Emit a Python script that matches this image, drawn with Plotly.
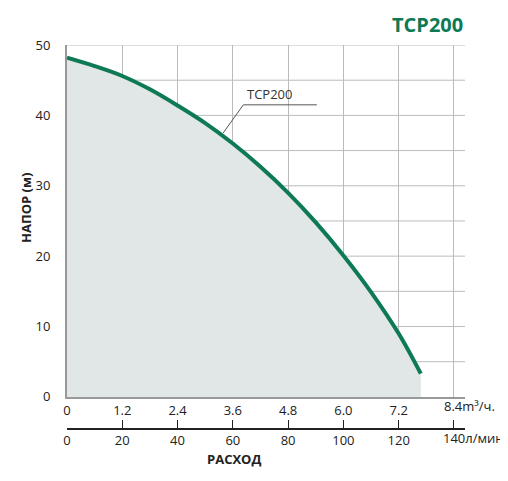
import numpy as np
import plotly.graph_objects as go

flow_lmin = [0, 10, 20, 30, 40, 50, 60, 70, 80, 90, 100, 110, 120, 128]
head_m = [48.2, 47.0, 45.6, 43.7, 41.4, 38.9, 36.0, 32.7, 29.0, 24.8, 20.1, 14.9, 9.0, 3.3]
lmin_ticks = [0, 20, 40, 60, 80, 100, 120, 140]
m3h_labels = ["0", "1.2", "2.4", "3.6", "4.8", "6.0", "7.2", ""]
lmin_labels = ["0", "20", "40", "60", "80", "100", "120", ""]

green = "#0d7a55"
font = "Open Sans"

fig = go.Figure()
fig.add_trace(go.Scatter(x=flow_lmin, y=head_m, mode="lines", line=dict(color=green, width=4, shape="spline"),
                         fill="tozeroy", fillcolor="#e1e6e6", showlegend=False))
fig.add_trace(go.Scatter(x=lmin_ticks, y=[None] * len(lmin_ticks), xaxis="x2", showlegend=False))

fig.update_layout(
    width=508, height=481, plot_bgcolor="white", paper_bgcolor="white",
    margin=dict(l=59, r=51, t=37, b=56),
    font=dict(family=font, size=13, color="#222"),
    xaxis=dict(range=[0, 144], tickvals=lmin_ticks, ticktext=m3h_labels, automargin=False,
               showgrid=True, gridcolor="#bbbbbb", gridwidth=1, showline=True, linecolor="#999", linewidth=2,
               zeroline=False, ticks="", anchor="y"),
    xaxis2=dict(range=[0, 144], tickvals=lmin_ticks, ticktext=lmin_labels, overlaying="x", anchor="free",
                position=0.010, automargin=False,
                showgrid=False, showline=True, linecolor="#222", linewidth=1.5, ticks="inside", ticklen=8,
                tickcolor="#222", side="bottom", zeroline=False),
    yaxis=dict(range=[0, 50], domain=[0.093, 1], tickvals=[0, 10, 20, 30, 40, 50], automargin=False,
               showgrid=False, showline=True, linecolor="#999", linewidth=2, zeroline=False, ticks="",
               ticklabelstandoff=12),
)

# horizontal grid every 5 m
for yv in np.arange(5, 51, 5):
    fig.add_shape(type="line", x0=0, x1=144, y0=yv, y1=yv, line=dict(color="#bbbbbb", width=1), layer="below")

fig.add_shape(type="line", x0=56.5, y0=37.5, x1=63.8, y1=41.5, line=dict(color="#555", width=1))
fig.add_shape(type="line", x0=63.8, y0=41.5, x1=90.4, y1=41.5, line=dict(color="#555", width=1))
fig.add_annotation(x=64.5, y=41.5, text="TCP200", showarrow=False, xanchor="left", yanchor="bottom",
                   font=dict(size=13, color="#333"))

fig.add_annotation(xref="paper", yref="paper", x=1.0, y=1.0, yshift=36, text="<b>TCP200</b>", showarrow=False,
                   xanchor="right", yanchor="top", font=dict(size=20, color=green))
fig.add_annotation(xref="x", yref="paper", x=140, xshift=-12, y=0.093, yshift=-20, text="8.4m³/ч.",
                   showarrow=False, xanchor="left", font=dict(size=13))
fig.add_annotation(xref="x", yref="paper", x=140, xshift=-13, y=0.010, yshift=-20, text="140л/мин.",
                   showarrow=False, xanchor="left", font=dict(size=13))
fig.add_annotation(xref="paper", yref="paper", x=0.42, y=0, yshift=-37, text="<b>РАСХОД</b>", showarrow=False,
                   font=dict(size=13))
fig.add_annotation(xref="paper", yref="paper", x=0, xshift=-52, y=0.58, text="<b>НАПОР (м)</b>", showarrow=False,
                   textangle=-90, font=dict(size=13))

fig.write_html("out.html")
